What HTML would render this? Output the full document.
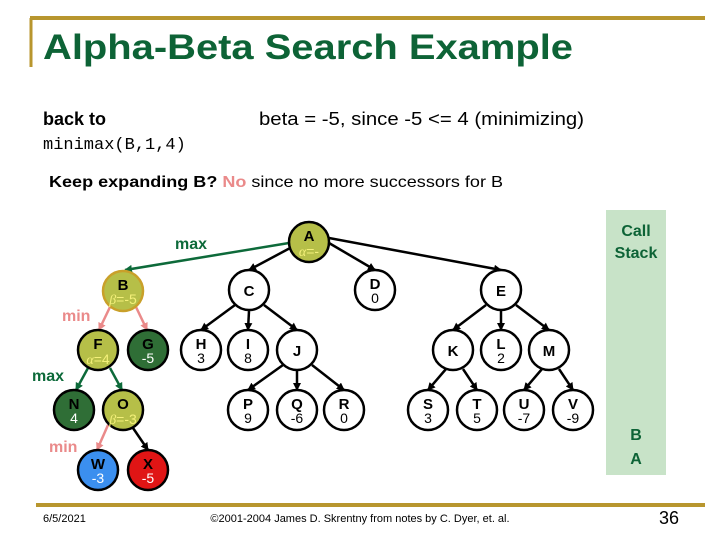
<!DOCTYPE html>
<html><head><meta charset="utf-8"><style>
html,body{margin:0;padding:0;background:#fff;}
svg{display:block;font-family:"Liberation Sans",Arial,sans-serif;}
</style></head><body>
<svg width="720" height="540" viewBox="0 0 720 540">
<defs>
<marker id="ak" markerWidth="8" markerHeight="8" refX="7" refY="4" orient="auto" markerUnits="userSpaceOnUse"><path d="M0,0 L8,4 L0,8 z" fill="#000"/></marker>
<marker id="ag" markerWidth="8" markerHeight="8" refX="7" refY="4" orient="auto" markerUnits="userSpaceOnUse"><path d="M0,0 L8,4 L0,8 z" fill="#0d6a3a"/></marker>
<marker id="ap" markerWidth="8" markerHeight="8" refX="7" refY="4" orient="auto" markerUnits="userSpaceOnUse"><path d="M0,0 L8,4 L0,8 z" fill="#ea8a8a"/></marker>
</defs>
<!-- frame lines -->
<line x1="30" y1="18" x2="705" y2="18" stroke="#b8962e" stroke-width="4"/>
<line x1="31" y1="18" x2="31" y2="67" stroke="#b8962e" stroke-width="3"/>
<line x1="36" y1="505" x2="705" y2="505" stroke="#b8962e" stroke-width="4"/>
<text x="43" y="59" font-size="35" font-weight="bold" fill="#0d6336" textLength="530" lengthAdjust="spacingAndGlyphs">Alpha-Beta Search Example</text>
<text x="43" y="125" font-size="18" font-weight="bold" fill="#000">back to</text>
<text x="43" y="149" font-size="17" font-family="Liberation Mono,monospace" fill="#000">minimax(B,1,4)</text>
<text x="259" y="125" font-size="18" fill="#000" textLength="325" lengthAdjust="spacingAndGlyphs">beta = -5, since -5 &lt;= 4  (minimizing)</text>
<text x="49" y="187" font-size="16" font-weight="bold" fill="#000" textLength="454" lengthAdjust="spacingAndGlyphs">Keep expanding B? <tspan fill="#ea8a8a">No</tspan><tspan font-weight="normal"> since no more successors for B</tspan></text>
<!-- call stack -->
<rect x="606" y="210" width="60" height="265" fill="#c8e3c8"/>
<g font-size="16" font-weight="bold" fill="#0d6336" text-anchor="middle">
<text x="636" y="236">Call</text><text x="636" y="258">Stack</text>
<text x="636" y="440">B</text><text x="636" y="464">A</text>
</g>
<!-- edges -->
<g stroke="#000" stroke-width="2.5" fill="none" marker-end="url(#ak)">
<line x1="292" y1="247" x2="249" y2="270"/>
<line x1="329" y1="243" x2="375" y2="270"/>
<line x1="329" y1="238" x2="501" y2="270"/>
<line x1="235" y1="305" x2="201" y2="330"/>
<line x1="249" y1="311" x2="248" y2="330"/>
<line x1="264" y1="305" x2="297" y2="330"/>
<line x1="283" y1="365" x2="248" y2="390"/>
<line x1="297" y1="371" x2="297" y2="390"/>
<line x1="312" y1="365" x2="344" y2="390"/>
<line x1="486" y1="305" x2="453" y2="330"/>
<line x1="501" y1="311" x2="501" y2="330"/>
<line x1="516" y1="305" x2="549" y2="330"/>
<line x1="446" y1="369" x2="428" y2="390"/>
<line x1="463" y1="369" x2="477" y2="390"/>
<line x1="542" y1="369" x2="524" y2="390"/>
<line x1="559" y1="369" x2="573" y2="390"/>
<line x1="133" y1="428" x2="148" y2="450"/>
</g>
<g stroke="#0d6a3a" stroke-width="2.5" fill="none" marker-end="url(#ag)">
<line x1="289" y1="243" x2="125" y2="270"/>
<line x1="88" y1="368" x2="76" y2="390"/>
<line x1="110" y1="368" x2="122" y2="390"/>
</g>
<g stroke="#ea8a8a" stroke-width="2.5" fill="none" marker-end="url(#ap)">
<line x1="110" y1="307" x2="99" y2="330"/>
<line x1="136" y1="307" x2="147" y2="330"/>
<line x1="108" y1="425" x2="97" y2="450"/>
</g>
<g font-size="16" font-weight="bold">
<text x="175" y="249" fill="#0d6a3a">max</text>
<text x="62" y="321" fill="#ea8a8a">min</text>
<text x="32" y="381" fill="#0d6a3a">max</text>
<text x="49" y="452" fill="#ea8a8a">min</text>
</g>
<!-- nodes -->
<g stroke="#000" stroke-width="2.5">
<circle cx="309" cy="242" r="20" fill="#b6bf48"/>
<circle cx="123" cy="291" r="20" fill="#b6bf48" stroke="#c9a02a"/>
<circle cx="98" cy="350" r="20" fill="#b6bf48"/>
<circle cx="123" cy="410" r="20" fill="#b6bf48"/>
<circle cx="148" cy="350" r="20" fill="#2f6e36"/>
<circle cx="74" cy="410" r="20" fill="#2f6e36"/>
<circle cx="98" cy="470" r="20" fill="#3b8fef"/>
<circle cx="148" cy="470" r="20" fill="#e01515"/>
<g fill="#fff">
<circle cx="249" cy="290" r="20"/><circle cx="375" cy="290" r="20"/><circle cx="501" cy="290" r="20"/>
<circle cx="201" cy="350" r="20"/><circle cx="248" cy="350" r="20"/><circle cx="297" cy="350" r="20"/>
<circle cx="453" cy="350" r="20"/><circle cx="501" cy="350" r="20"/><circle cx="549" cy="350" r="20"/>
<circle cx="248" cy="410" r="20"/><circle cx="297" cy="410" r="20"/><circle cx="344" cy="410" r="20"/>
<circle cx="428" cy="410" r="20"/><circle cx="477" cy="410" r="20"/><circle cx="524" cy="410" r="20"/><circle cx="573" cy="410" r="20"/>
</g>
</g>
<g text-anchor="middle" font-size="15" font-weight="bold" fill="#000">
<text x="309" y="241">A</text><text x="123" y="290">B</text><text x="98" y="349">F</text><text x="123" y="409">O</text>
<text x="148" y="349">G</text><text x="74" y="409">N</text><text x="98" y="469">W</text><text x="148" y="469">X</text>
<text x="249" y="296">C</text><text x="375" y="289">D</text><text x="501" y="296">E</text>
<text x="201" y="349">H</text><text x="248" y="349">I</text><text x="297" y="356">J</text>
<text x="453" y="356">K</text><text x="501" y="349">L</text><text x="549" y="356">M</text>
<text x="248" y="409">P</text><text x="297" y="409">Q</text><text x="344" y="409">R</text>
<text x="428" y="409">S</text><text x="477" y="409">T</text><text x="524" y="409">U</text><text x="573" y="409">V</text>
</g>
<g text-anchor="middle" font-size="14" fill="#000">
<text x="375" y="303">0</text><text x="201" y="363">3</text><text x="248" y="363">8</text><text x="501" y="363">2</text>
<text x="248" y="423">9</text><text x="297" y="423">-6</text><text x="344" y="423">0</text>
<text x="428" y="423">3</text><text x="477" y="423">5</text><text x="524" y="423">-7</text><text x="573" y="423">-9</text>
</g>
<g text-anchor="middle" font-size="14" fill="#fff">
<text x="148" y="363">-5</text><text x="74" y="423">4</text><text x="98" y="483">-3</text><text x="148" y="483">-5</text>
</g>
<g text-anchor="middle" font-size="14" fill="#f4f07a">
<text x="309" y="256"><tspan font-style="italic" font-family="Liberation Serif,serif">α</tspan>=-</text>
<text x="123" y="304"><tspan font-style="italic" font-family="Liberation Serif,serif">β</tspan>=-5</text>
<text x="98" y="364"><tspan font-style="italic" font-family="Liberation Serif,serif">α</tspan>=4</text>
<text x="123" y="424"><tspan font-style="italic" font-family="Liberation Serif,serif">β</tspan>=-3</text>
</g>
<!-- footer -->
<text x="43" y="522" font-size="11" fill="#000">6/5/2021</text>
<text x="360" y="522" font-size="11" fill="#000" text-anchor="middle">©2001-2004 James D. Skrentny from notes by C. Dyer, et. al.</text>
<text x="679" y="524" font-size="18" fill="#000" text-anchor="end">36</text>
</svg>
</body></html>
